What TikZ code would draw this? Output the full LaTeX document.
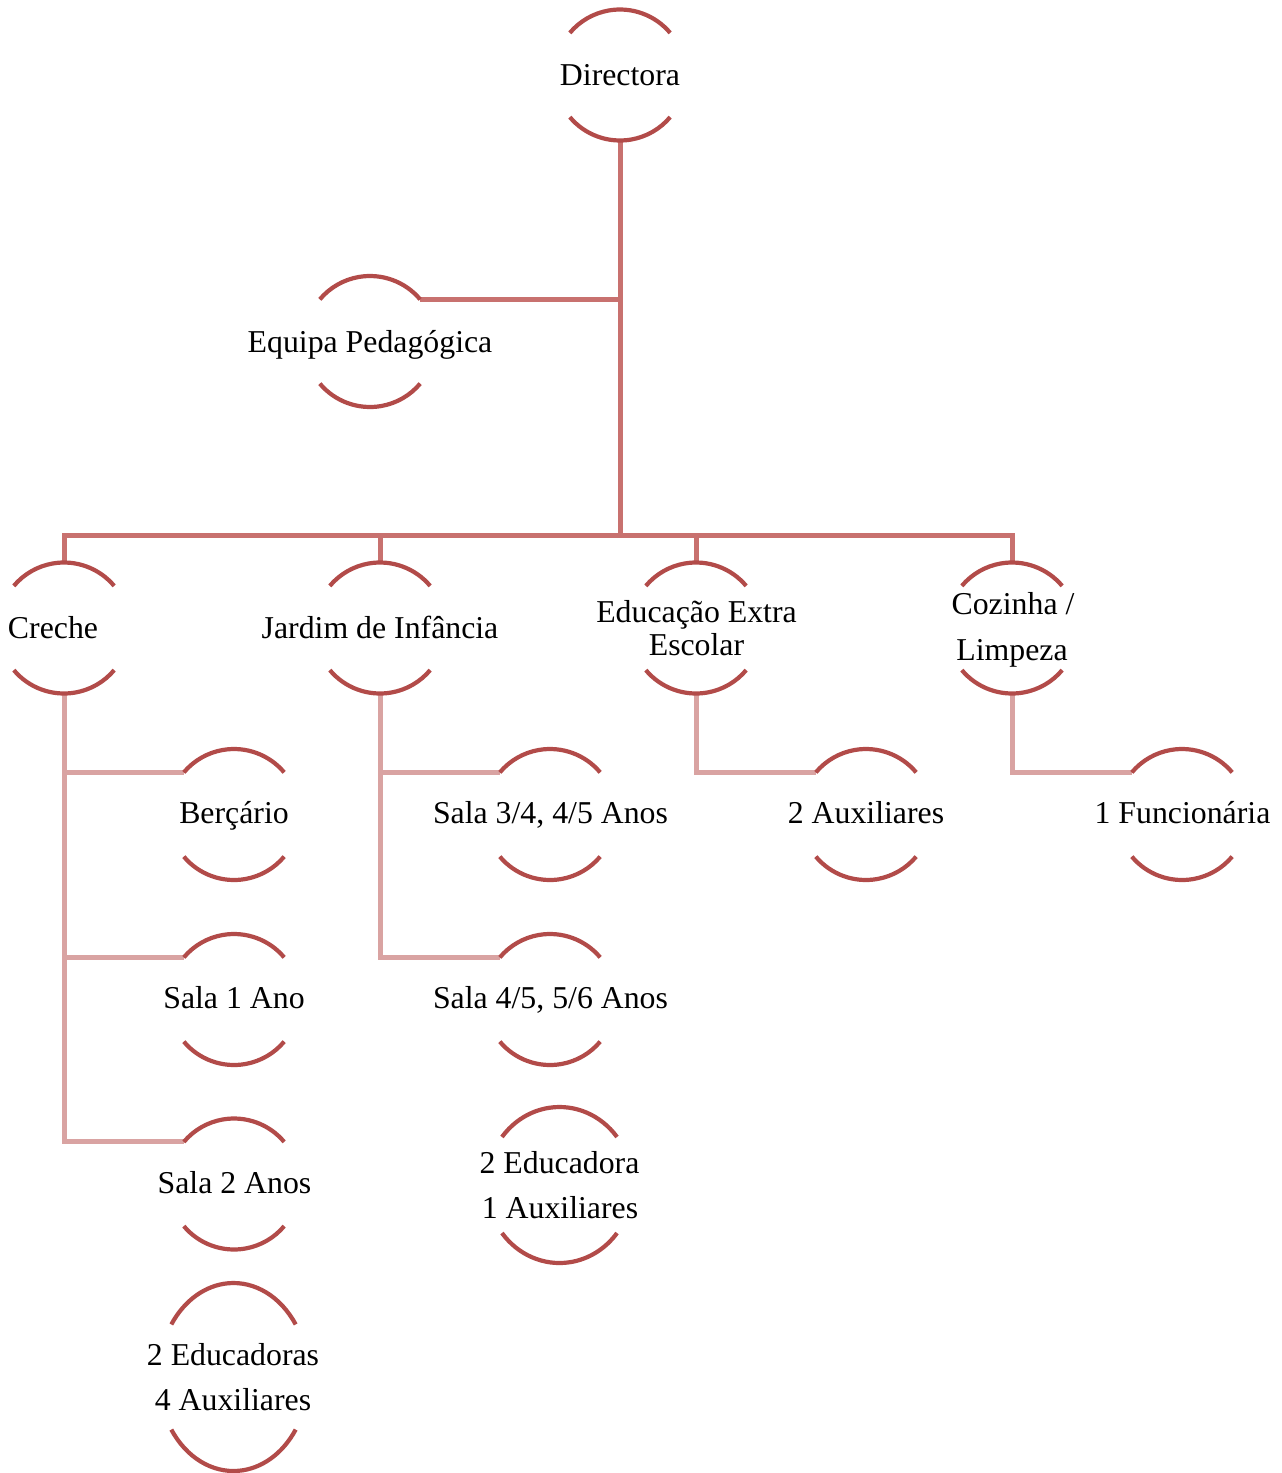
\documentclass[tikz,border=0pt]{standalone}
\usepackage{fontspec}
\setmainfont{Liberation Serif}
\usetikzlibrary{calc}
\definecolor{arcred}{HTML}{B24B49}
\definecolor{upline}{HTML}{C8716F}
\definecolor{lowline}{HTML}{D9A3A2}
\newcommand\ringarcs[4]{%
  \draw[arcst] ($(#1.center)+(#4:#2 and #3)$) arc[start angle=#4, end angle=180-#4, x radius=#2, y radius=#3];
  \draw[arcst] ($(#1.center)+(180+#4:#2 and #3)$) arc[start angle=180+#4, end angle=360-#4, x radius=#2, y radius=#3];}
\tikzset{
  ring/.style={circle, minimum size=65.5pt, inner sep=0pt, outer sep=0pt},
  oval/.style={ellipse, inner sep=0pt, outer sep=0pt},
  arcst/.style={draw=arcred, line width=2.1pt},
  upper/.style={draw=upline, line width=2.5pt},
  lower/.style={draw=lowline, line width=2.5pt},
  lbl/.style={anchor=base, inner sep=0pt, font=\fontsize{15.9}{19}\selectfont}
}
\begin{document}
\begin{tikzpicture}[x=0.5pt, y=0.5pt]
\useasboundingbox (0,0) rectangle (1281,-1473);
% shape nodes (invisible carriers of the arcs)
\node[ring] (dir) at (620,-75) {};
\node[ring] (eq)  at (370,-341.5) {};
\node[ring] (cre) at (64,-628) {};
\node[ring] (jar) at (380,-628) {};
\node[ring] (edu) at (696,-628) {};
\node[ring] (coz) at (1012,-628) {};
\node[ring] (ber) at (234,-814.5) {};
\node[ring] (s1)  at (234,-999.5) {};
\node[ring] (s2)  at (234,-1184) {};
\node[ring] (s34) at (550,-814.5) {};
\node[ring] (s45) at (550,-999.5) {};
\node[ring] (aux) at (866,-814.5) {};
\node[ring] (fun) at (1182,-814.5) {};
\coordinate (e4) at (233.5,-1377);
\coordinate (e2) at (559.5,-1185);
\coordinate (bus) at (620,-535);
% connectors, upper level
\draw[upper] (dir.south) -- (bus);
\draw[upper] (eq.40) -- (eq.40 -| dir.south);
\draw[upper] (cre.north) |- (bus);
\draw[upper] (jar.north) |- (bus);
\draw[upper] (edu.north) |- (bus);
\draw[upper] (coz.north) |- (bus);
% connectors, lower level
\draw[lower] (cre.south) |- (ber.140);
\draw[lower] (cre.south) |- (s1.140);
\draw[lower] (cre.south) |- (s2.140);
\draw[lower] (jar.south) |- (s34.140);
\draw[lower] (jar.south) |- (s45.140);
\draw[lower] (edu.south) |- (aux.140);
\draw[lower] (coz.south) |- (fun.140);
% arcs
\foreach \n in {dir,eq,cre,jar,edu,coz,ber,s1,s2,s34,s45,aux,fun}{\ringarcs{\n}{32.75pt}{32.75pt}{40}}
\ringarcs{e4}{37.5pt}{47pt}{34}
\ringarcs{e2}{36.5pt}{39pt}{38}
% labels
\node[lbl] (tdir) at (620,-85) {Directora};
\node[lbl] (teq) at (370,-352) {Equipa Pedagógica};
\node[lbl] (tcre) at (53,-638) {Creche};
\node[lbl] (tjar) at (380,-638) {Jardim de Infância};
\node[lbl] (tedua) at (696.5,-622) {Educação Extra};
\node[lbl] (tedub) at (696.5,-655) {Escolar};
\node[lbl] (tcoza) at (1013,-614) {Cozinha /};
\node[lbl] (tcozb) at (1012,-660) {Limpeza};
\node[lbl] (tber) at (234,-823) {Berçário};
\node[lbl] (ts34) at (550.5,-823) {Sala 3/4, 4/5 Anos};
\node[lbl] (taux) at (866,-823) {2 Auxiliares};
\node[lbl] (tfun) at (1182.5,-823) {1 Funcionária};
\node[lbl] (ts1) at (234,-1008) {Sala 1 Ano};
\node[lbl] (ts45) at (550.5,-1008) {Sala 4/5, 5/6 Anos};
\node[lbl] (ts2) at (234.5,-1193) {Sala 2 Anos};
\node[lbl] (te2a) at (559.5,-1173) {2 Educadora};
\node[lbl] (te2b) at (560,-1218) {1 Auxiliares};
\node[lbl] (te4a) at (233,-1365) {2 Educadoras};
\node[lbl] (te4b) at (233,-1410) {4 Auxiliares};
\end{tikzpicture}
\end{document}
